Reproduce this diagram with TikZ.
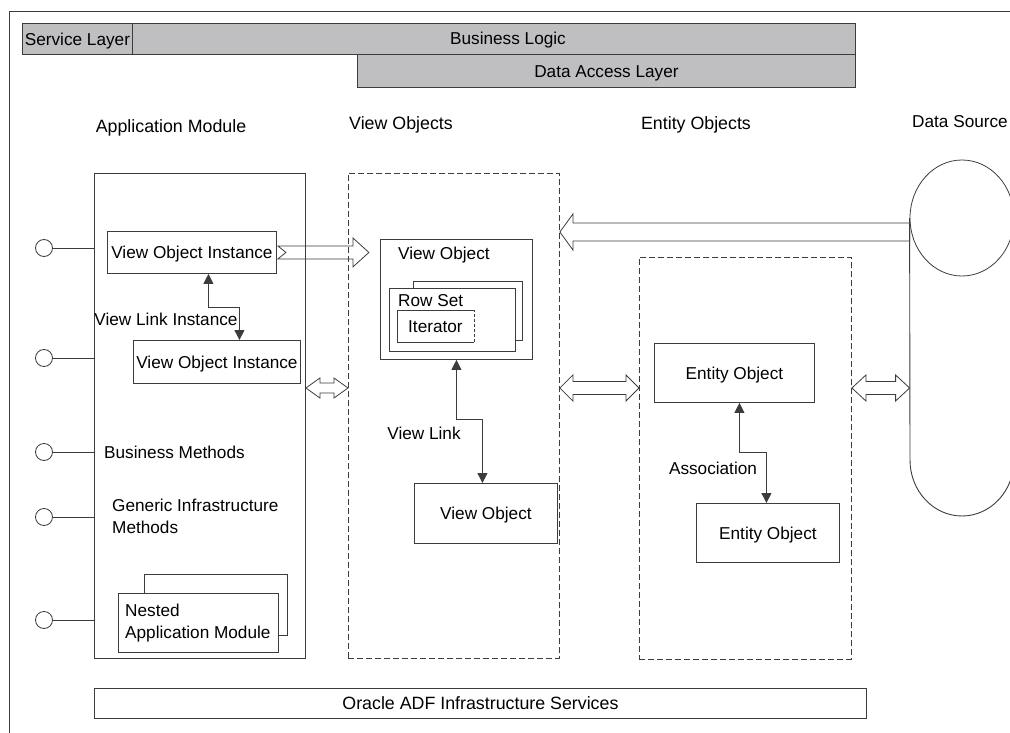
\documentclass[tikz,border=0pt]{standalone}
\usepackage{fontspec}
\setmainfont{Liberation Sans}
\usetikzlibrary{shapes.geometric,calc,arrows.meta}
\definecolor{bargray}{RGB}{191,191,193}
\definecolor{linegray}{RGB}{60,60,60}
\tikzset{BOX/.style={rectangle, draw=linegray, line width=0.9pt, inner sep=0pt, anchor=north west, text height=12.2pt, text depth=0pt}}
\tikzset{DASHBOX/.style={BOX, dash pattern=on 6pt off 3pt}}
\tikzset{BAR/.style={BOX, fill=bargray}}
\tikzset{TXT/.style={inner sep=0pt, text height=12.2pt, text depth=0pt}}
\tikzset{TITLE/.style={TXT, font=\fontsize{17.8}{22}\selectfont}}
\tikzset{MULTI/.style={inner sep=0pt, align=left, anchor=west}}
\tikzset{LINK/.style={draw=linegray, line width=0.9pt, {Triangle[width=10pt,length=10pt]}-{Triangle[width=10pt,length=10pt]}}}
\tikzset{HOLLOW/.style={draw=linegray, line width=0.8pt, line join=miter}}
\tikzset{PORT/.style={circle, draw=linegray, line width=0.8pt, minimum size=17pt, inner sep=0pt}}
% hollow double arrow: left tip, right tip, head length, head half width, shaft half width
\newcommand{\DBLARROW}[5]{%
  \draw[HOLLOW, fill=white] (#1) -- ++(#3,-#4) -- ++(0,#4-#5) -- ($(#2)+(-#3,-#5)$) -- ++(0,#5-#4)
    -- (#2) -- ++(-#3,#4) -- ++(0,#5-#4) -- ($(#1)+(#3,#5)$) -- ++(0,#4-#5) -- cycle;}

\begin{document}
\begin{tikzpicture}[x=1pt, y=-1pt, font=\fontsize{17.2}{22}\selectfont]
    \useasboundingbox (0,0) rectangle (1010,733);
    \clip (0,0) rectangle (1010,733);

    \draw[draw=linegray, line width=0.9pt] (9,733) -- (9,11) -- (1010,11);

    % layers
    \node[BAR, minimum width=833, minimum height=31] (n_biz) at (22,23) {};
    \node[TXT] at (508,38) {Business Logic};
    \node[BAR, minimum width=110, minimum height=31] (n_svc) at (22,23) {Service Layer};
    \node[BAR, minimum width=498, minimum height=33] (n_dal) at (357,54) {Data Access Layer};

    % column titles
    \node[TITLE] (t_appmod) at (171,126) {Application Module};
    \node[TITLE] (t_vo) at (401,123) {View Objects};
    \node[TITLE] (t_eo) at (696,123) {Entity Objects};
    \node[TXT, anchor=east] (t_ds) at (1008,121) {Data Source};

    % big containers
    \node[BOX, minimum width=211, minimum height=485] (n_appmod) at (94,173) {};
    \node[DASHBOX, minimum width=211, minimum height=485] (n_vobox) at (348,173) {};
    \node[DASHBOX, minimum width=212, minimum height=402] (n_eobox) at (639,257) {};

    % data source
    \node[ellipse, draw=linegray, line width=0.8pt, minimum width=104, minimum height=116, inner sep=0pt] (n_ds) at (962,218) {};
    \draw[draw=linegray, line width=0.9pt] (n_ds.west) -- (910,460) arc[start angle=180, end angle=360, x radius=52pt, y radius=56pt];

    % application module
    \foreach \py [count=\i] in {248,358,452,517,620}{
        \node[PORT] (n_port\i) at (44,\py) {};
        \draw[draw=linegray, line width=0.8pt] (n_port\i.east) -- (n_port\i -| n_appmod.west);
    }
    \node[BOX, minimum width=169, minimum height=42] (n_voi1) at (107,231) {View Object Instance};
    \node[BOX, minimum width=167, minimum height=43] (n_voi2) at (133,340) {View Object Instance};
    \draw[LINK] ([xshift=16.5]n_voi1.south) -- ++(0,34) -| ([xshift=22.5]n_voi2.north);
    \node[TXT] (l_vli) at (166,319) {View Link Instance};
    \node[TXT, anchor=west] (l_bm) at (104,452) {Business Methods};
    \node[MULTI] (l_gim) at (112,516) {Generic Infrastructure\\Methods};
    \node[BOX, minimum width=143, minimum height=61] (n_nestback) at (144,574) {};
    \node[BOX, fill=white, minimum width=160, minimum height=59] (n_nested) at (118,593) {};
    \node[MULTI] (l_nested) at (125,623) {Nested\\Application Module};

    % view objects
    \node[BOX, minimum width=152, minimum height=120] (n_vo) at (380,239) {};
    \node[TXT, anchor=west] (l_vo) at (398,253) {View Object};
    \node[BOX, minimum width=109, minimum height=59] (n_rsback) at (413,281) {};
    \node[BOX, fill=white, minimum width=126, minimum height=63] (n_rowset) at (389,288) {};
    \node[TXT, anchor=west] (l_rowset) at (398,300) {Row Set};
    \node[BOX, draw=none, minimum width=76, minimum height=31] (n_iter) at (397,310) {Iterator};
    \draw[draw=linegray, line width=0.8pt] (n_iter.north east) -- (n_iter.north west) -- (n_iter.south west) -- (n_iter.south east);
    \draw[draw=linegray, line width=0.8pt, dash pattern=on 3pt off 2pt] (n_iter.south east) -- (n_iter.north east);
    \node[BOX, minimum width=143, minimum height=60] (n_vo2) at (414,483) {View Object};
    \draw[LINK] (n_vo.south) -- ++(0,60) -| ([xshift=-3.5]n_vo2.north);
    \node[TXT] (l_vl) at (424,433) {View Link};

    % entity objects
    \node[BOX, minimum width=160, minimum height=59] (n_eo1) at (654,343) {Entity Object};
    \node[BOX, minimum width=143, minimum height=59] (n_eo2) at (696,503) {Entity Object};
    \draw[LINK] ([xshift=5]n_eo1.south) -- ++(0,50) -| ([xshift=-1.5]n_eo2.north);
    \node[TXT] (l_assoc) at (713,468) {Association};

    % hollow arrows
    \coordinate (lvl_big) at (0,232);
    \coordinate (lvl_dbl) at (0,388);
    \coordinate (voi_tip) at ($(n_voi1.east)+(92,0)$);
    \draw[HOLLOW] ($(n_voi1.east)+(1,-6.5)$) -- ($(voi_tip)+(-16,-6.5)$) -- ++(0,-8) -- (voi_tip)
        -- ++(-16,14.5) -- ++(0,-8) -- ($(n_voi1.east)+(1,6.5)$) -- ++(8,-6.5) -- cycle;
    \draw[HOLLOW, fill=white] (n_vobox.east |- lvl_big) -- ++(13,-18) -- ++(0,9) -- ($(n_ds.west |- lvl_big)+(0,-9)$)
        -- ($(n_ds.west |- lvl_big)+(0,9)$) -- ($(n_vobox.east |- lvl_big)+(13,9)$) -- ++(0,9) -- cycle;
    \DBLARROW{n_appmod.east |- lvl_dbl}{n_vobox.west |- lvl_dbl}{14}{10}{5}
    \DBLARROW{n_vobox.east |- lvl_dbl}{n_eobox.west |- lvl_dbl}{13}{13}{6.5}
    \DBLARROW{n_eobox.east |- lvl_dbl}{n_ds.west |- lvl_dbl}{14}{13}{6.5}

    % infrastructure
    \node[BOX, minimum width=772, minimum height=30, font=\fontsize{17.8}{22}\selectfont] (n_adf) at (94,688) {Oracle ADF Infrastructure Services};
\end{tikzpicture}
\end{document}
